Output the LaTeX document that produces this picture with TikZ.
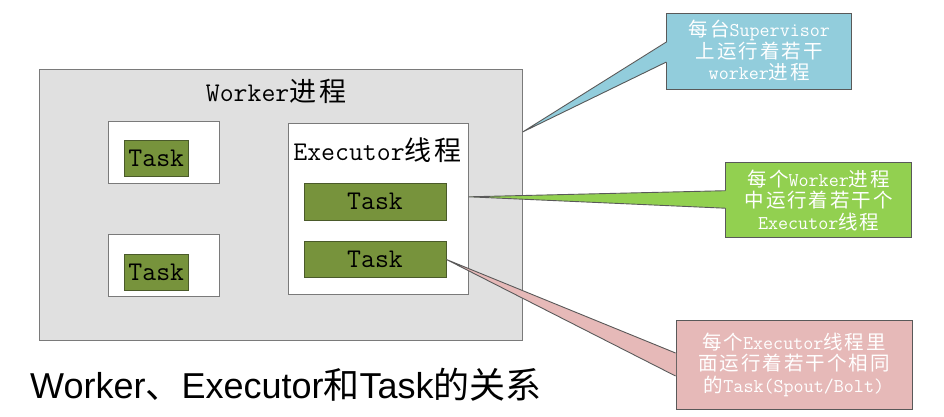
\documentclass[tikz,border=0pt]{standalone}
\usepackage{fontspec}
\newfontfamily\zhfont[LetterSpace=10]{Noto Sans CJK SC}
\newfontfamily\titlefont{Liberation Sans}
\newfontfamily\titlezhfont{Noto Sans CJK SC}
\newcommand{\zhtext}[1]{{\zhfont #1}}
\definecolor{workergray}{HTML}{E0E0E0}
\definecolor{linegray}{HTML}{7A7A7A}
\definecolor{taskgreen}{HTML}{77933C}
\definecolor{taskedge}{HTML}{4A5A2A}
\definecolor{noteedge}{HTML}{595959}
\definecolor{noteblue}{HTML}{92CDDC}
\definecolor{notegreen}{HTML}{92D050}
\definecolor{notepink}{HTML}{E6B9B8}
\usetikzlibrary{positioning,calc}

\begin{document}
\begin{tikzpicture}[x=1pt,y=-1pt,
  box/.style={draw=linegray,line width=0.9pt,inner sep=0pt},
  label/.style={anchor=base,inner sep=0pt,font=\ttfamily\fontsize{27}{32}\selectfont},
  taskbox/.style={draw=taskedge,fill=taskgreen,line width=0.9pt,minimum height=36.5pt,inner sep=0pt,font=\ttfamily\fontsize{27}{32}\selectfont},
  note/.style={draw=noteedge,line width=0.9pt,align=center,text=white,inner sep=0pt,font=\ttfamily\fontsize{19.5}{21.5}\selectfont},
  pointer/.style={draw=noteedge,line width=0.9pt}]
  \useasboundingbox (0,0) rectangle (944,416);
  % worker process and its executors
  \node[box,fill=workergray,minimum width=483pt,minimum height=270.7pt] (worker) at (280.8,204.7) {};
  \node[label] (workerlbl) at (276,101.7) {Worker\zhtext{进程}};
  \node[box,fill=white,minimum width=110.7pt,minimum height=62.3pt] (exec1) at (163.6,152.2) {};
  \node[box,fill=white,minimum width=110.7pt,minimum height=62.4pt] (exec2) at (163.6,265.5) {};
  \node[box,fill=white,minimum width=180pt,minimum height=171pt] (exec3) at (378.3,208.8) {};
  \node[label] (execlbl) at (377.4,160) {Executor\zhtext{线程}};
  \node[taskbox,minimum width=64.7pt] (task1) at (156.3,158.3) {Task};
  \node[taskbox,minimum width=64.7pt] (task2) at (156.3,272.5) {Task};
  \node[taskbox,minimum width=142pt] (task3) at (375,201.7) {Task};
  \node[taskbox,minimum width=142pt] (task4) at (375,259.5) {Task};
  % callouts
  \node[note,fill=noteblue,minimum width=185pt,minimum height=76pt] (noteworker) at (759.3,51)
    {\zhtext{每台}Supervisor\\\zhtext{上运行着若干}\\worker\zhtext{进程}};
  \node[note,fill=notegreen,minimum width=186pt,minimum height=75pt] (noteexec) at (818.7,200.2)
    {\zhtext{每个}Worker\zhtext{进程}\\\zhtext{中运行着若干个}\\Executor\zhtext{线程}};
  \node[note,fill=notepink,minimum width=236pt,minimum height=89pt] (notetask) at (794,364.5)
    {\zhtext{每个}Executor\zhtext{线程里}\\\zhtext{面运行着若干个相同}\\\zhtext{的}Task(Spout/Bolt)};
  \coordinate (workertip) at ([yshift=-63pt]worker.north east);
  \coordinate (exectip) at ([yshift=12pt]exec3.east);
  \fill[noteblue] ([xshift=0.6pt,yshift=9pt]noteworker.west) -- (workertip) -- ([xshift=0.6pt,yshift=-11pt]noteworker.west) -- cycle;
  \draw[pointer] ([yshift=9pt]noteworker.west) -- (workertip) -- ([yshift=-11pt]noteworker.west);
  \fill[notegreen] ([xshift=0.6pt,yshift=9.5pt]noteexec.west) -- (exectip) -- ([xshift=0.6pt,yshift=-8pt]noteexec.west) -- cycle;
  \draw[pointer] ([yshift=9.5pt]noteexec.west) -- (exectip) -- ([yshift=-8pt]noteexec.west);
  \fill[notepink] ([xshift=0.6pt,yshift=11.5pt]notetask.west) -- (task4.east) -- ([xshift=0.6pt,yshift=-11.5pt]notetask.west) -- cycle;
  \draw[pointer] ([yshift=11.5pt]notetask.west) -- (task4.east) -- ([yshift=-11.5pt]notetask.west);
  % caption
  \node[anchor=base west,inner sep=0pt,font=\titlefont\fontsize{36}{40}\selectfont] (title) at (30,398)
    {Worker{\titlezhfont 、}Executor{\titlezhfont 和}Task{\titlezhfont 的关系}};
\end{tikzpicture}
\end{document}
